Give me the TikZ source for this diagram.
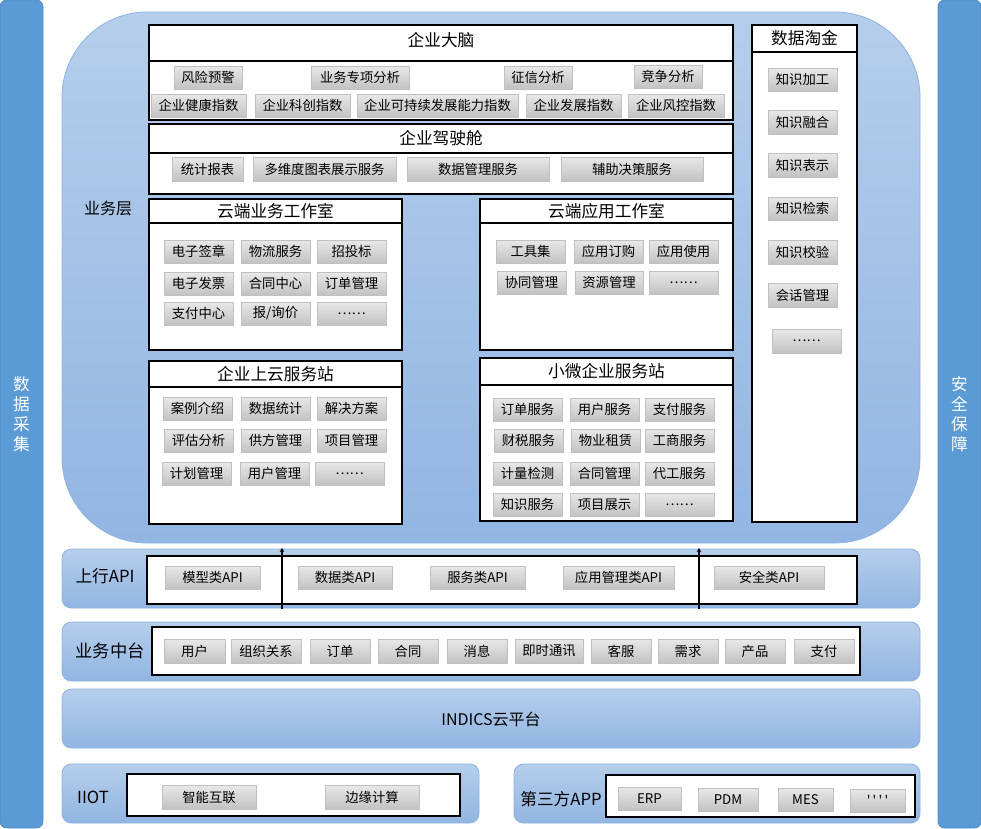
\documentclass[tikz,border=0pt]{standalone}
\usepackage{fontspec}
\setmainfont{Noto Sans CJK SC}
\usetikzlibrary{arrows.meta}
\definecolor{sidebar}{HTML}{5B9BD5}
\definecolor{bandtop}{HTML}{B5CEEB}
\definecolor{bandbot}{HTML}{92B5E2}
\definecolor{bandline}{HTML}{8DB3E2}
\definecolor{itemtop}{HTML}{E8E8E8}
\definecolor{itembot}{HTML}{C2C2C2}
\definecolor{itemline}{HTML}{C0C0C0}
\newcommand{\mkbox}[7]{\node[#1, minimum width={(#5-#3)*0.75pt}, minimum height={(#6-#4)*0.75pt}] (#2) at ({(#3+#5)/2},{(#4+#6)/2}) {#7};}
\begin{document}
\begin{tikzpicture}[x=0.75pt,y=-0.75pt,
  sidebox/.style={fill=sidebar, draw=sidebar!90!black, line width=0.6pt, rounded corners=5pt, inner sep=0pt},
  sidetext/.style={text=white, font=\fontsize{12.5}{15}\selectfont, align=center},
  band/.style={top color=bandtop, bottom color=bandbot, draw=bandline, line width=0.6pt, rounded corners=7pt, inner sep=0pt},
  bigband/.style={top color=bandtop, bottom color=bandbot, draw=bandline, line width=0.6pt, rounded corners=64pt, inner sep=0pt},
  whitebox/.style={fill=white, draw=black, line width=1pt, inner sep=0pt},
  gitem/.style={top color=itemtop, bottom color=itembot, draw=itemline, line width=0.5pt, inner sep=0pt, font=\fontsize{10}{11}\selectfont},
  titletext/.style={font=\fontsize{12.5}{14}\selectfont},
  bandlabel/.style={font=\fontsize{12.5}{14}\selectfont},
  sepline/.style={draw=black, line width=1pt},
  apiarrow/.style={draw=black, line width=1.7pt, -{Stealth[length=3pt,width=3.5pt]}}
]
\useasboundingbox (0,0) rectangle (981,828);
% side bars
\mkbox{sidebox}{leftbar}{0}{0}{43}{828}{}
\node[sidetext] (leftbartext) at (21.5,414) {数\\据\\采\\集};
\mkbox{sidebox}{rightbar}{938}{0}{981}{828}{}
\node[sidetext] (rightbartext) at (959.5,414) {安\\全\\保\\障};
% business layer region
\mkbox{bigband}{biz}{62}{12}{920}{543}{}
\node[bandlabel, font=\fontsize{12}{14}\selectfont] (bizlabel) at (108,208) {业务层};
% 企业大脑
\mkbox{whitebox}{brain}{149}{25}{733}{120}{}
\draw[sepline] (brain.west |- 0,61) -- (brain.east |- 0,61);
\node[titletext] (braint) at (441,40) {企业大脑};
\mkbox{gitem}{b1}{174}{66}{242}{89}{风险预警}
\mkbox{gitem}{b2}{311}{66}{409}{89}{业务专项分析}
\mkbox{gitem}{b3}{504}{66}{572}{89}{征信分析}
\mkbox{gitem}{b4}{634}{65}{702}{88}{竞争分析}
\mkbox{gitem}{b5}{151}{94}{246}{117}{企业健康指数}
\mkbox{gitem}{b6}{255}{94}{350}{117}{企业科创指数}
\mkbox{gitem}{b7}{357}{94}{518}{117}{企业可持续发展能力指数}
\mkbox{gitem}{b8}{526}{94}{621}{117}{企业发展指数}
\mkbox{gitem}{b9}{628}{94}{724}{117}{企业风控指数}
% 企业驾驶舱
\mkbox{whitebox}{cockpit}{149}{124}{733}{194}{}
\draw[sepline] (cockpit.west |- 0,153) -- (cockpit.east |- 0,153);
\node[titletext] (cockpitt) at (441,138) {企业驾驶舱};
\mkbox{gitem}{c1}{172}{157}{243}{181}{统计报表}
\mkbox{gitem}{c2}{253}{157}{396}{181}{多维度图表展示服务}
\mkbox{gitem}{c3}{407}{157}{549}{181}{数据管理服务}
\mkbox{gitem}{c4}{561}{157}{703}{181}{辅助决策服务}
% 云端业务工作室
\mkbox{whitebox}{cbs}{149}{199}{402}{350}{}
\draw[sepline] (cbs.west |- 0,223) -- (cbs.east |- 0,223);
\node[titletext] (cbst) at (275.5,211) {云端业务工作室};
\mkbox{gitem}{s1}{164}{240}{233}{263}{电子签章}
\mkbox{gitem}{s2}{241}{240}{310}{263}{物流服务}
\mkbox{gitem}{s3}{317}{240}{386}{263}{招投标}
\mkbox{gitem}{s4}{164}{272}{233}{295}{电子发票}
\mkbox{gitem}{s5}{241}{272}{310}{295}{合同中心}
\mkbox{gitem}{s6}{317}{272}{386}{295}{订单管理}
\mkbox{gitem}{s7}{164}{302}{233}{325}{支付中心}
\mkbox{gitem}{s8}{241}{302}{310}{325}{报/询价}
\mkbox{gitem}{s9}{317}{302}{386}{325}{……}
% 云端应用工作室
\mkbox{whitebox}{cas}{480}{199}{733}{350}{}
\draw[sepline] (cas.west |- 0,223) -- (cas.east |- 0,223);
\node[titletext] (cast) at (606.5,211) {云端应用工作室};
\mkbox{gitem}{a1}{496}{240}{565}{263}{工具集}
\mkbox{gitem}{a2}{574}{240}{643}{263}{应用订购}
\mkbox{gitem}{a3}{649}{240}{718}{263}{应用使用}
\mkbox{gitem}{a4}{497}{271}{566}{294}{协同管理}
\mkbox{gitem}{a5}{575}{271}{643}{294}{资源管理}
\mkbox{gitem}{a6}{649}{271}{718}{294}{……}
% 企业上云服务站
\mkbox{whitebox}{ecs}{149}{361}{402}{524}{}
\draw[sepline] (ecs.west |- 0,387) -- (ecs.east |- 0,387);
\node[titletext] (ecst) at (275.5,374) {企业上云服务站};
\mkbox{gitem}{e1}{163}{397}{232}{420}{案例介绍}
\mkbox{gitem}{e2}{241}{397}{310}{420}{数据统计}
\mkbox{gitem}{e3}{317}{397}{386}{420}{解决方案}
\mkbox{gitem}{e4}{164}{429}{233}{452}{评估分析}
\mkbox{gitem}{e5}{241}{429}{310}{452}{供方管理}
\mkbox{gitem}{e6}{317}{429}{386}{452}{项目管理}
\mkbox{gitem}{e7}{162}{462}{231}{485}{计划管理}
\mkbox{gitem}{e8}{240}{462}{309}{485}{用户管理}
\mkbox{gitem}{e9}{315}{462}{384}{485}{……}
% 小微企业服务站
\mkbox{whitebox}{sme}{480}{358}{733}{521}{}
\draw[sepline] (sme.west |- 0,385) -- (sme.east |- 0,385);
\node[titletext] (smet) at (606.5,371) {小微企业服务站};
\mkbox{gitem}{m1}{493}{398}{562}{421}{订单服务}
\mkbox{gitem}{m2}{570}{398}{639}{421}{用户服务}
\mkbox{gitem}{m3}{645}{398}{714}{421}{支付服务}
\mkbox{gitem}{m4}{494}{429}{563}{452}{财税服务}
\mkbox{gitem}{m5}{571}{429}{640}{452}{物业租赁}
\mkbox{gitem}{m6}{645}{429}{714}{452}{工商服务}
\mkbox{gitem}{m7}{493}{462}{562}{485}{计量检测}
\mkbox{gitem}{m8}{570}{462}{639}{485}{合同管理}
\mkbox{gitem}{m9}{645}{462}{714}{485}{代工服务}
\mkbox{gitem}{m10}{493}{493}{562}{516}{知识服务}
\mkbox{gitem}{m11}{570}{493}{639}{516}{项目展示}
\mkbox{gitem}{m12}{645}{493}{714}{516}{……}
% 数据淘金
\mkbox{whitebox}{dm}{752}{25}{857}{522}{}
\draw[sepline] (dm.west |- 0,52) -- (dm.east |- 0,52);
\node[titletext] (dmt) at (804.5,38) {数据淘金};
\mkbox{gitem}{d1}{768}{68}{837}{91}{知识加工}
\mkbox{gitem}{d2}{768}{110}{837}{134}{知识融合}
\mkbox{gitem}{d3}{768}{153}{837}{177}{知识表示}
\mkbox{gitem}{d4}{768}{197}{837}{220}{知识检索}
\mkbox{gitem}{d5}{768}{240}{837}{264}{知识校验}
\mkbox{gitem}{d6}{768}{283}{837}{307}{会话管理}
\mkbox{gitem}{d7}{772}{329}{841}{353}{……}
% 上行API
\mkbox{band}{api}{62}{549}{920}{608}{}
\node[bandlabel] (apil) at (105,576) {上行API};
\mkbox{whitebox}{apibox}{147}{556}{857}{604}{}
\mkbox{gitem}{p1}{165}{566}{260}{589}{模型类API}
\mkbox{gitem}{p2}{298}{566}{392}{589}{数据类API}
\mkbox{gitem}{p3}{430}{566}{525}{589}{服务类API}
\mkbox{gitem}{p4}{563}{566}{674}{589}{应用管理类API}
\mkbox{gitem}{p5}{714}{566}{824}{589}{安全类API}
\coordinate (ar1b) at (282,609);
\coordinate (ar1t) at (282,548);
\coordinate (ar2b) at (699,609);
\coordinate (ar2t) at (699,548);
\draw[apiarrow] (ar1b) -- (ar1t);
\draw[apiarrow] (ar2b) -- (ar2t);
% 业务中台
\mkbox{band}{mid}{62}{622}{920}{681}{}
\node[bandlabel, font=\fontsize{13}{15}\selectfont] (midl) at (110,651) {业务中台};
\mkbox{whitebox}{midbox}{152}{627}{860}{675}{}
\mkbox{gitem}{t1}{164}{639}{225}{663}{用户}
\mkbox{gitem}{t2}{231}{639}{301}{663}{组织关系}
\mkbox{gitem}{t3}{310}{639}{370}{663}{订单}
\mkbox{gitem}{t4}{378}{639}{438}{663}{合同}
\mkbox{gitem}{t5}{447}{639}{507}{663}{消息}
\mkbox{gitem}{t6}{515}{639}{583}{663}{即时通讯}
\mkbox{gitem}{t7}{591}{639}{651}{663}{客服}
\mkbox{gitem}{t8}{658}{639}{718}{663}{需求}
\mkbox{gitem}{t9}{725}{639}{785}{663}{产品}
\mkbox{gitem}{t10}{794}{639}{854}{663}{支付}
% INDICS
\mkbox{band}{indics}{62}{689}{920}{748}{}
\node[bandlabel, font=\fontsize{12}{14}\selectfont] (indicsl) at (491,719) {INDICS云平台};
% IIOT
\mkbox{band}{iiot}{62}{764}{479}{823}{}
\node[bandlabel] (iiotl) at (93,797) {IIOT};
\mkbox{whitebox}{iiotbox}{127}{774}{460}{816}{}
\mkbox{gitem}{i1}{162}{785}{256}{809}{智能互联}
\mkbox{gitem}{i2}{325}{785}{419}{809}{边缘计算}
% 第三方APP
\mkbox{band}{app}{514}{764}{920}{823}{}
\node[bandlabel] (appl) at (561,799) {第三方APP};
\mkbox{whitebox}{appbox}{606}{775}{915}{817}{}
\mkbox{gitem}{x1}{618}{787}{681}{810}{ERP}
\mkbox{gitem}{x2}{698}{788}{758}{811}{PDM}
\mkbox{gitem}{x3}{778}{788}{833}{811}{MES}
\mkbox{gitem}{x4}{850}{789}{905}{812}{\textquotesingle\,\textquotesingle\,\textquotesingle\,\textquotesingle}
\end{tikzpicture}
\end{document}
